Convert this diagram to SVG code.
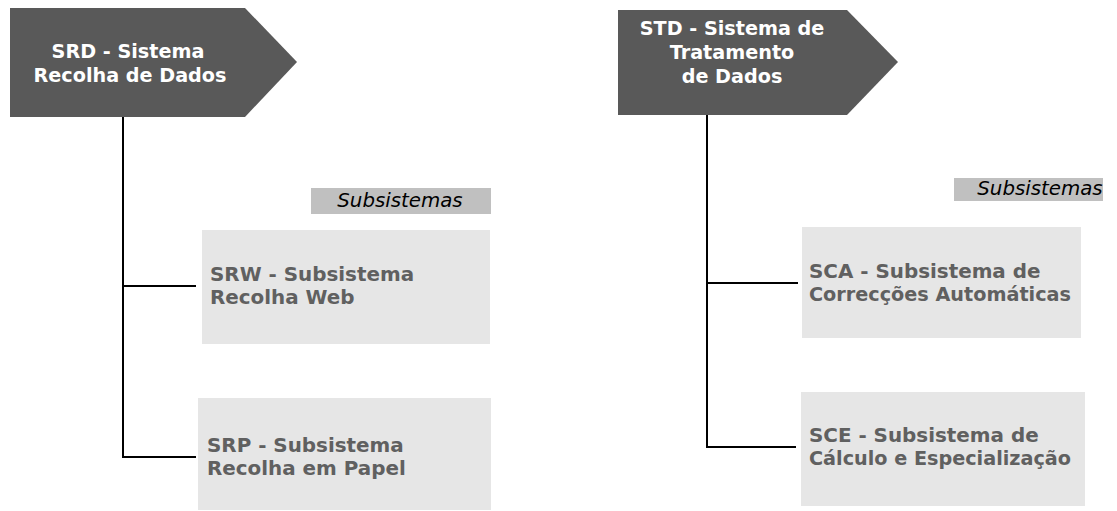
<svg xmlns="http://www.w3.org/2000/svg" width="1117" height="511" viewBox="0 0 1117 511">
<style>
.head{fill:#595959}
.ht{fill:#fff;font-family:"DejaVu Sans",Verdana,sans-serif;font-weight:bold;font-size:19.2px;text-anchor:middle}
.box{fill:#e6e6e6}
.bt{fill:#606060;font-family:"DejaVu Sans",Verdana,sans-serif;font-weight:bold;font-size:19.9px}
.lab{fill:#c0c0c0}
.lt{fill:#000;font-family:"DejaVu Sans",Verdana,sans-serif;font-style:italic;font-size:19.8px;text-anchor:middle}
.con{stroke:#000;stroke-width:2;fill:none}
</style>
<rect width="1117" height="511" fill="#fff"/>
<g id="connectors">
<path class="con" d="M123 117 V457 H196 M123 286 H196"/>
<path class="con" d="M707 115 V447 H796 M707 283 H798"/>
</g>
<g id="srd">
<polygon class="head" points="10,8 245,8 297,62 245,117 10,117"/>
<text class="ht" x="128" y="58">SRD - Sistema</text>
<text class="ht" x="130" y="82">Recolha de Dados</text>
</g>
<g id="std">
<polygon class="head" points="618,10 847,10 898,62 847,115 618,115"/>
<text class="ht" x="732" y="35">STD - Sistema de</text>
<text class="ht" x="732" y="59">Tratamento</text>
<text class="ht" x="732" y="83">de Dados</text>
</g>
<g id="label-left">
<rect class="lab" x="311" y="188" width="180" height="26"/>
<text class="lt" x="400" y="207">Subsistemas</text>
</g>
<g id="label-right">
<rect class="lab" x="954" y="178" width="149" height="23"/>
<text class="lt" x="1040" y="195">Subsistemas</text>
</g>
<g id="srw">
<rect class="box" x="202" y="230" width="288" height="114"/>
<text class="bt" x="210" y="281">SRW - Subsistema</text>
<text class="bt" x="210" y="304">Recolha Web</text>
</g>
<g id="srp">
<rect class="box" x="198" y="398" width="293" height="112"/>
<text class="bt" x="207" y="452">SRP - Subsistema</text>
<text class="bt" x="207" y="475">Recolha em Papel</text>
</g>
<g id="sca">
<rect class="box" x="802" y="227" width="279" height="111"/>
<text class="bt" x="809" y="278">SCA - Subsistema de</text>
<text class="bt" x="809" y="301" textLength="262" lengthAdjust="spacingAndGlyphs">Correcções Automáticas</text>
</g>
<g id="sce">
<rect class="box" x="801" y="392" width="284" height="114"/>
<text class="bt" x="809" y="442">SCE - Subsistema de</text>
<text class="bt" x="809" y="465" textLength="262" lengthAdjust="spacingAndGlyphs">Cálculo e Especialização</text>
</g>
</svg>
